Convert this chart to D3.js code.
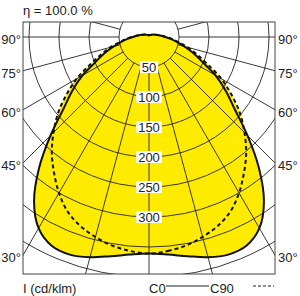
<!DOCTYPE html>
<html>
<head>
<meta charset="utf-8">
<script src="https://cdn.jsdelivr.net/npm/d3@7"></script>
<style>
  body { margin: 0; background: #fff; }
  svg text { font-family: "Liberation Sans", Arial, sans-serif; fill: #222; }
</style>
</head>
<body>
<script>
// gamma angles (deg from nadir) and intensities in cd/klm
const gammas = [0, 5, 10, 15, 20, 25, 30, 35, 40, 45, 50, 55, 60, 65, 70, 75, 80, 85, 90, 100, 110, 120, 135, 150, 180];
const c0Values = [361, 364, 371, 380, 386, 384, 368, 334, 285, 232, 186, 156, 128, 98, 79, 61, 47, 36, 27, 17, 11, 8, 5, 4, 3];
const c90Values = [361, 358, 353, 345, 335, 321, 300, 276, 252, 225, 198, 168, 139, 108, 85, 67, 50, 39, 29, 17, 11, 8, 5, 4, 3];
const ringValues = [50, 100, 150, 200, 250, 300, 350, 400, 450];
const ringLabels = ["50", "100", "150", "200", "250", "300"];
const spokeAngles = [0, 15, 30, 45, 60, 75, 90, 105, 120, 135, 150, 165, 180];
const sideLabels = [90, 75, 60, 45, 30];

const W = 300, H = 296;
const box = {x: 23, y: 22, w: 252, h: 252};
const cx = 149, cy = 37;
const yellow = "#ffeb00";

const r = d3.scaleLinear().domain([0, 50]).range([0, 30]);
const rad = d => d * Math.PI / 180;

const svg = d3.select("body").append("svg")
    .attr("width", W)
    .attr("height", H);

svg.append("clipPath").attr("id", "clip")
    .append("rect")
    .attr("x", box.x).attr("y", box.y)
    .attr("width", box.w).attr("height", box.h);

const plot = svg.append("g").attr("clip-path", "url(#clip)");
const g = plot.append("g").attr("transform", `translate(${cx},${cy})`);

// closed curve: right half then mirrored left half
function fullCurve(vals) {
    const pts = [];
    gammas.forEach((a, i) => pts.push([Math.PI - rad(a), r(vals[i])]));
    for (let i = gammas.length - 2; i > 0; --i) pts.push([Math.PI + rad(gammas[i]), r(vals[i])]);
    return pts;
}

const radial = d3.lineRadial()
    .angle(d => d[0])
    .radius(d => d[1])
    .curve(d3.curveCatmullRomClosed);

const c0 = fullCurve(c0Values), c90 = fullCurve(c90Values);

g.append("path").attr("d", radial(c90)).attr("fill", yellow);
g.append("path").attr("d", radial(c0)).attr("fill", yellow);

// grid
g.selectAll(".ring").data(ringValues).enter().append("circle")
    .attr("r", d => r(d))
    .attr("fill", "none")
    .attr("stroke", "#222")
    .attr("stroke-width", 0.9);

const spokes = [];
spokeAngles.forEach(a => { spokes.push(a); if (a > 0 && a < 180) spokes.push(-a); });
g.selectAll(".spoke").data(spokes).enter().append("line")
    .attr("x1", d => r(50) * Math.sin(rad(d)))
    .attr("y1", d => r(50) * Math.cos(rad(d)))
    .attr("x2", d => r(600) * Math.sin(rad(d)))
    .attr("y2", d => r(600) * Math.cos(rad(d)))
    .attr("stroke", "#222")
    .attr("stroke-width", 0.9);

// curves
g.append("path").attr("d", radial(c0))
    .attr("fill", "none").attr("stroke", "#111").attr("stroke-width", 2);
g.append("path").attr("d", radial(c90))
    .attr("fill", "none").attr("stroke", "#111").attr("stroke-width", 2)
    .attr("stroke-dasharray", "4,3");

// intensity labels on the axis
const lab = g.selectAll(".lab").data(ringLabels).enter().append("g")
    .attr("transform", d => `translate(0,${r(+d)})`);
lab.append("rect")
    .attr("x", d => -d.length * 3.6 - 2)
    .attr("y", -6)
    .attr("width", d => d.length * 7.2 + 4)
    .attr("height", 12)
    .attr("fill", "#fff");
lab.append("text")
    .attr("text-anchor", "middle")
    .attr("dy", "0.36em")
    .attr("font-size", 13)
    .text(d => d);

// box
svg.append("rect")
    .attr("x", box.x).attr("y", box.y)
    .attr("width", box.w).attr("height", box.h)
    .attr("fill", "none")
    .attr("stroke", "#444")
    .attr("stroke-width", 1);

// angle labels on both sides
sideLabels.forEach(a => {
    const y = (a === 90 ? cy : cy + (box.x + box.w - cx) / Math.tan(rad(a))) + 2.5;
    svg.append("text").attr("x", 21).attr("y", y).attr("dy", "0.36em")
        .attr("text-anchor", "end").attr("font-size", 13).text(a + "°");
    svg.append("text").attr("x", 278).attr("y", y).attr("dy", "0.36em")
        .attr("text-anchor", "start").attr("font-size", 13).text(a + "°");
});

svg.append("text").attr("x", 23).attr("y", 15).attr("font-size", 13).text("η = 100.0 %");
svg.append("text").attr("x", 23).attr("y", 293).attr("font-size", 13).text("I (cd/klm)");

// legend
svg.append("text").attr("x", 149).attr("y", 293).attr("font-size", 13).text("C0");
svg.append("line").attr("x1", 166).attr("x2", 209).attr("y1", 286).attr("y2", 286)
    .attr("stroke", "#222").attr("stroke-width", 1.2);
svg.append("text").attr("x", 210).attr("y", 293).attr("font-size", 13).text("C90");
svg.append("line").attr("x1", 253).attr("x2", 274).attr("y1", 286).attr("y2", 286)
    .attr("stroke", "#222").attr("stroke-width", 1.2).attr("stroke-dasharray", "3,2");
</script>
</body>
</html>
